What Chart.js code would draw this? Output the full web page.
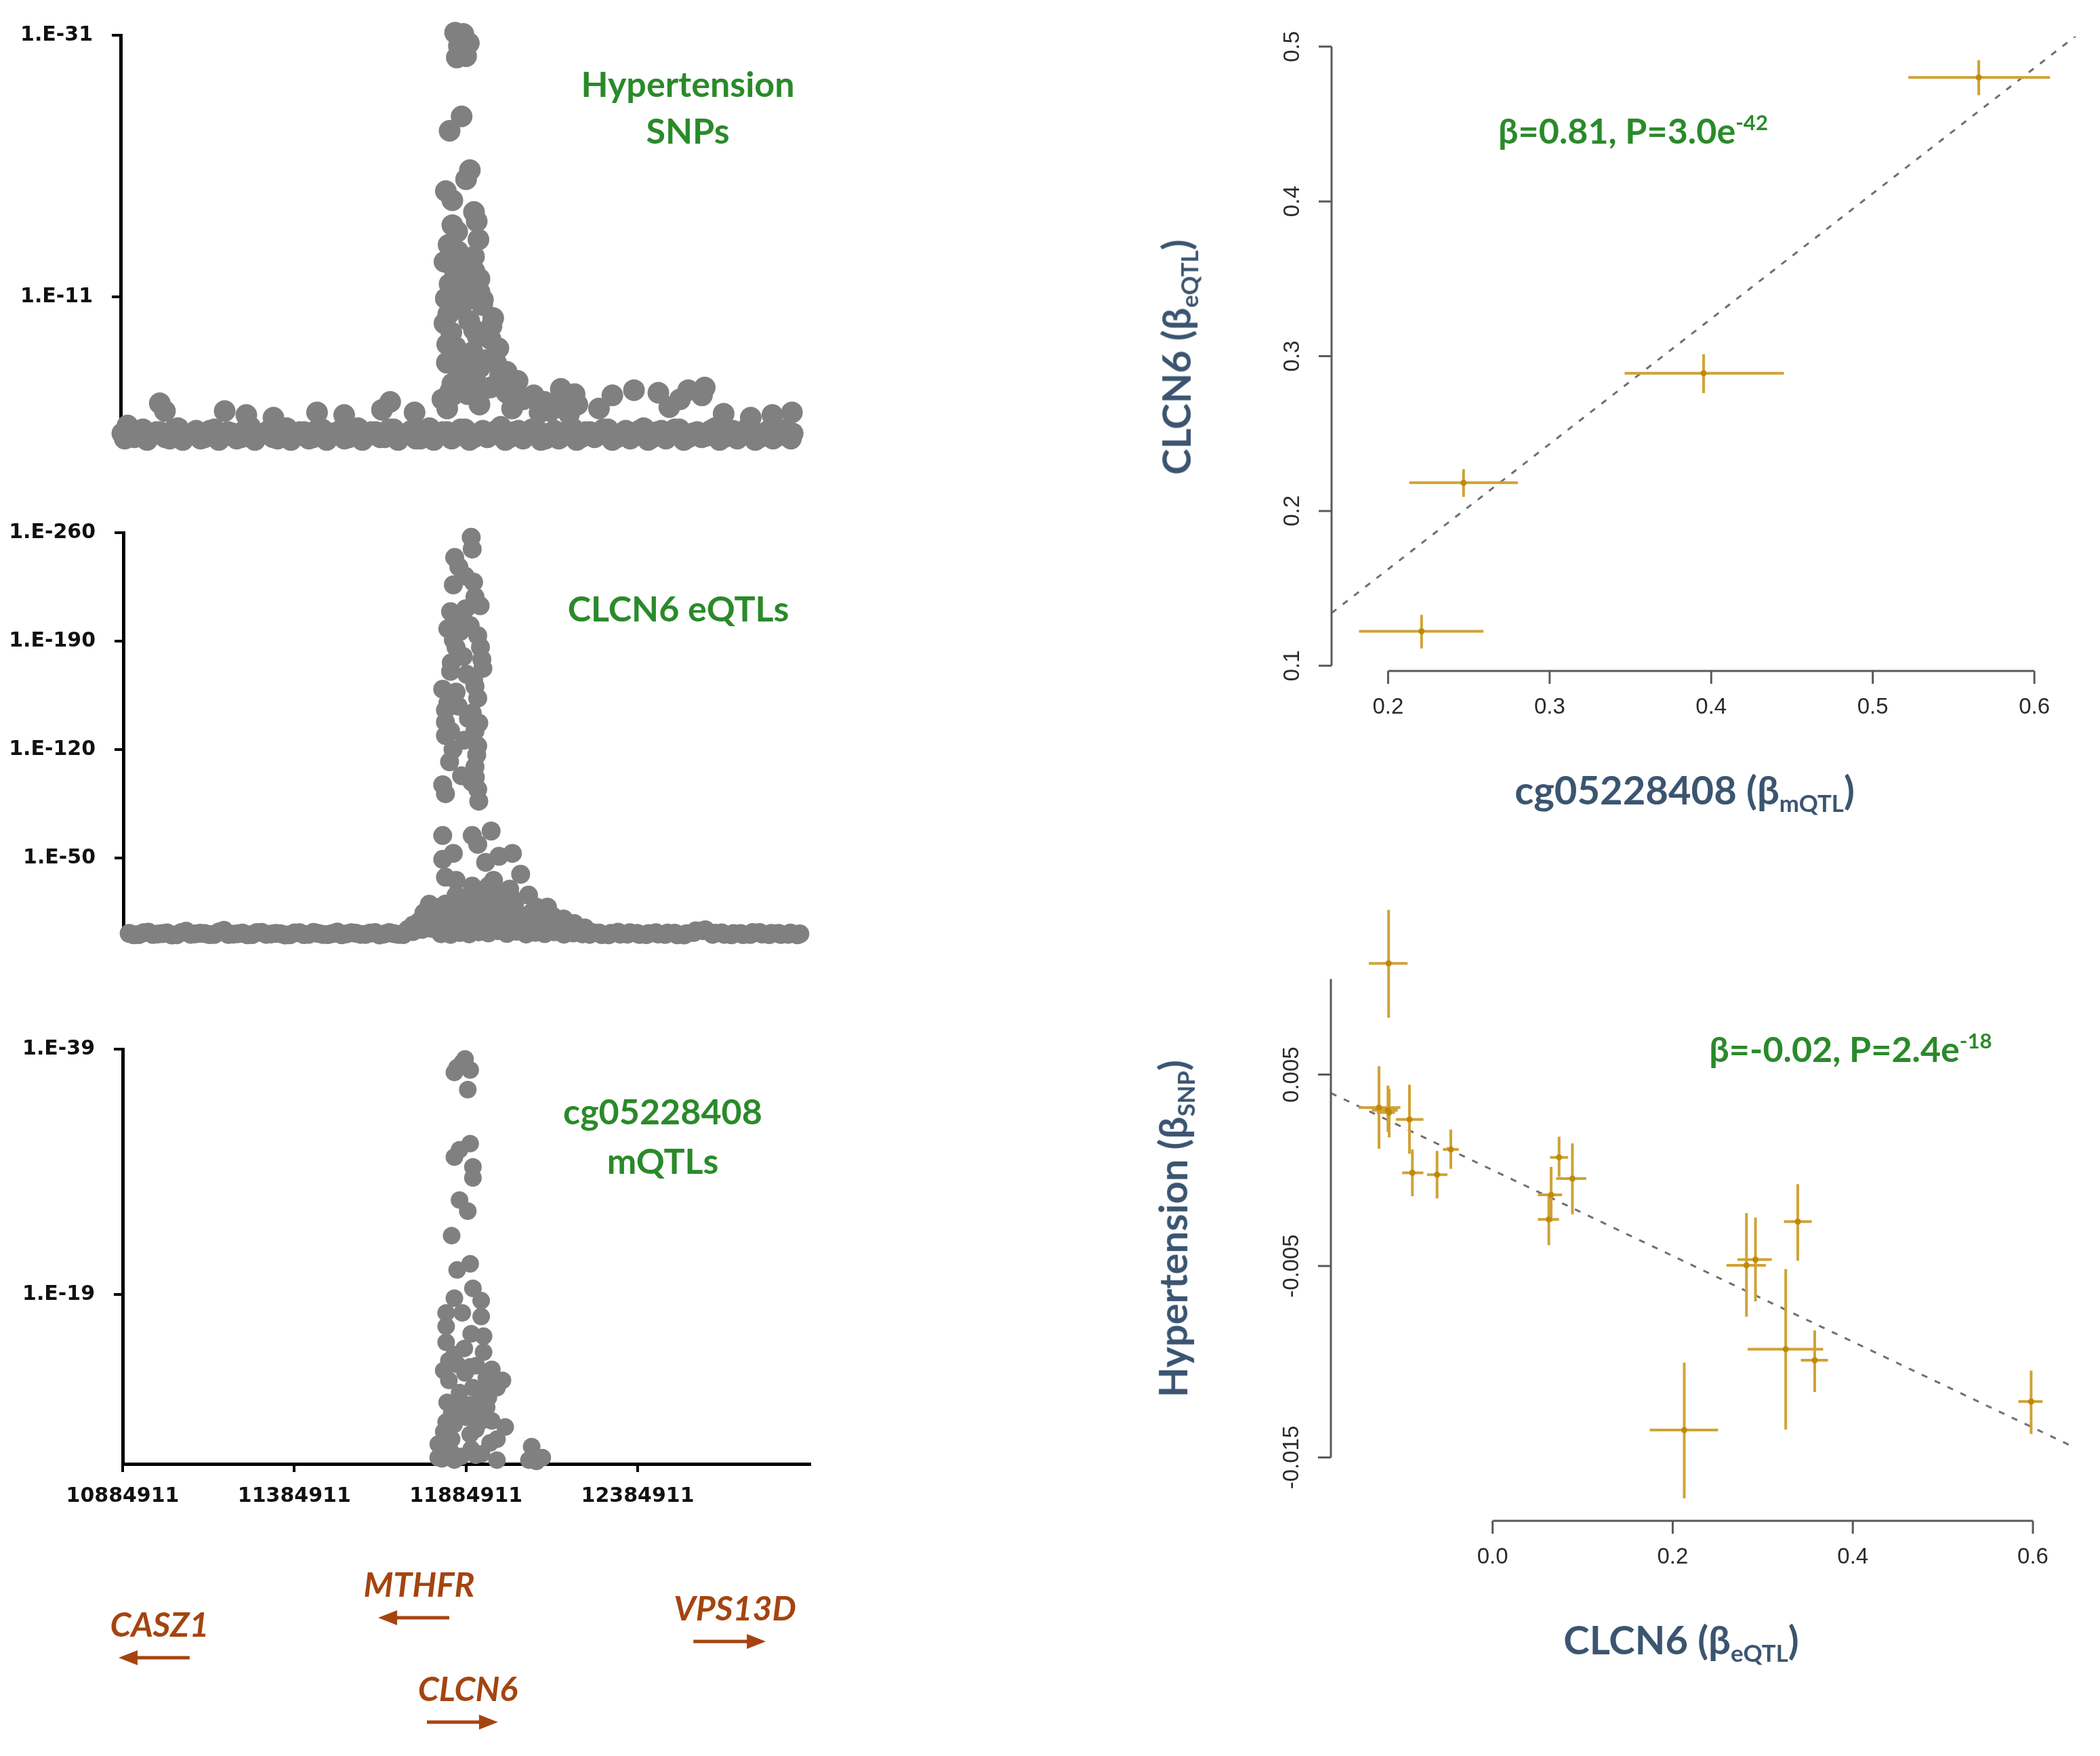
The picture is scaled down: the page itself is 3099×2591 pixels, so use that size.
<!DOCTYPE html>
<html>
<head>
<meta charset="utf-8">
<script src="https://cdn.jsdelivr.net/npm/chart.js@4.4.0/dist/chart.umd.min.js"></script>
<style>
html, body { margin:0; padding:0; background:#fff; }
body { width:3099px; height:2591px; position:relative; overflow:hidden; font-family:Lato, "Open Sans", sans-serif; }
canvas { position:absolute; }
.t { position:absolute; white-space:nowrap; font-weight:bold; line-height:1.2; }
.sub { font-size:0.6em; position:relative; top:0.32em; }
.sup { font-size:0.6em; position:relative; top:-0.62em; }
</style>
</head>
<body>
<canvas id="snpChart" width="1240" height="740" style="left:0;top:0"></canvas>
<canvas id="eqtlChart" width="1240" height="740" style="left:0;top:740px"></canvas>
<canvas id="mqtlChart" width="1240" height="1111" style="left:0;top:1480px"></canvas>
<canvas id="mrTop" width="1399" height="1250" style="left:1700px;top:0"></canvas>
<canvas id="mrBottom" width="1399" height="1341" style="left:1700px;top:1250px"></canvas>
<script>
// ---------- left panels: positions in kb, values are -log10(P) ----------
var xTicksBp = [10884911, 11384911, 11884911, 12384911];
var xMinBp = 10884911, xMaxBp = 12886000;

// Hypertension SNPs
var snpBasePos = [10890,10905,10925,10950,10972,11000,11028,11052,11080,11105,11130,11158,11185,11210,11236,11262,11290,11316,11342,11368,
  11394,11420,11446,11472,11498,11524,11550,11576,11602,11628,11654,11680,11706,11732,11758,11784,11810,11836,11862,11888,
  11914,11940,11966,11992,12018,12044,12070,12096,12122,12148,12174,12200,12226,12252,12278,12304,12330,12356,12382,12408,
  12434,12460,12486,12512,12538,12564,12590,12616,12642,12668,12694,12720,12746,12772,12798,12824,12842];
var snpBaseLogP = [0.6,1.2,0.3,0.9,0.4,0.7,0.2,1.0,0.5,0.8,0.3,0.9,0.4,0.6,0.3,1.1,0.5,0.8,0.2,1.0,
  0.4,0.7,0.3,0.9,0.6,0.8,0.3,1.0,0.4,0.7,0.3,0.9,0.5,0.8,0.2,1.0,0.5,0.7,0.4,0.9,
  0.3,0.8,0.5,1.1,0.3,0.8,0.5,0.9,0.2,0.8,0.4,1.0,0.3,0.7,0.5,0.9,0.3,0.8,0.4,1.0,
  0.3,0.8,0.5,0.9,0.3,0.7,0.4,1.0,0.3,0.8,0.5,0.9,0.3,0.8,0.4,0.9,0.6];
var snpBase2Pos = [10897,10938,10962,10990,11015,11042,11066,11093,11118,11145,11171,11198,11223,11249,11276,11303,11329,11355,11381,11407,
  11433,11459,11485,11511,11537,11563,11589,11615,11641,11667,11693,11719,11745,11771,11797,11823,11849,11875,11901,11927,
  11953,11979,12005,12031,12057,12083,12109,12135,12161,12187,12213,12239,12265,12291,12317,12343,12369,12395,12421,12447,
  12473,12499,12525,12551,12577,12603,12629,12655,12681,12707,12733,12759,12785,12811,12837];
var snpBase2LogP = [0.2,0.8,0.1,0.7,0.3,0.9,0.1,0.6,0.2,0.8,0.1,0.7,0.2,0.9,0.1,0.6,0.3,0.8,0.1,0.7,
  0.2,0.9,0.1,0.6,0.2,0.8,0.1,0.7,0.3,0.9,0.1,0.6,0.2,0.8,0.1,0.7,0.2,0.9,0.1,0.6,
  0.3,0.8,0.1,0.7,0.2,0.9,0.1,0.6,0.2,0.8,0.1,0.7,0.3,0.9,0.1,0.6,0.2,0.8,0.1,0.7,
  0.2,0.9,0.1,0.6,0.3,0.8,0.1,0.7,0.2,0.9,0.1,0.6,0.2,0.8,0.2];
var snpBumpPos = [10999,11014,11188,11251,11330,11457,11536,11670,11646,11741,11836,12167,12207,12317,12278,12380,12451,12483,12514,12538,
  12586,12578,12840,12783,12641,12720,12160,12105];
var snpBumpLogP = [2.9,2.3,2.3,2.0,1.8,2.2,2.0,3.0,2.4,2.2,2.5,4.0,3.6,3.5,2.5,3.9,3.7,2.6,3.2,3.9,
  4.1,3.5,2.2,2.0,2.1,1.8,2.6,2.2];
var snpPeakPos = [11859,11883,11899,11880,11864,11870,11891,11878,11843,11902,11891,11832,11851,11914,11922,11851,11927,11914,11891,11859,
  11843,11930,11832,11883,11938,11970,11839,11848,11914,11962,11985,11836,11851,11907,11978,12009,11867,11930,11851,12041,
  11899,11851,11962,12009,12057,12088,12120,12136,12025,11930,12215,12191,11828,11867,11930,11846,
  11822,11845,11870,11895,11920,11945,11835,11860,11885,11910,11935,11828,11852,11876,11900,11925,11950,11840,11865,11890,
  11915,11940,11965,11990];
var snpPeakLogP = [31.2,31.1,30.4,29.8,29.3,30.2,29.4,24.8,23.7,20.7,20.0,19.1,18.4,17.5,16.8,16.5,15.4,14.1,13.4,12.9,
  12.0,11.4,10.9,10.6,10.4,9.4,9.7,8.3,8.5,7.8,7.1,7.4,6.5,6.6,6.0,5.3,5.5,5.6,4.4,4.6,
  4.8,3.5,4.1,3.7,3.2,3.5,3.0,2.3,2.5,2.8,2.8,2.1,13.7,14.5,12.4,10.4,
  3.2,3.8,4.2,3.6,4.5,4.0,6.0,7.2,5.2,6.8,5.8,9.0,10.0,11.8,9.2,8.0,6.2,15.0,16.0,12.2,
  13.0,10.8,8.8,5.0];
var snpTicks = [11, 31];

// CLCN6 eQTLs
var eqtlBasePos = [10902,10930,10958,10985,11012,11040,11068,11095,11122,11150,11178,11205,11232,11260,11288,11315,11342,11370,11398,11425,
  11452,11480,11508,11535,11562,11590,11618,11645,11672,11700,11728,11755,11782,11810,11838,11865,11892,11920,11948,11975,
  12002,12030,12058,12085,12112,12140,12168,12195,12222,12250,12278,12305,12332,12360,12388,12415,12442,12470,12498,12525,
  12552,12580,12608,12635,12662,12690,12718,12745,12772,12800,12828,12855];
var eqtlBaseLogP = [1.2,0.4,2.0,0.8,1.5,0.3,2.6,0.9,1.1,0.5,3.2,0.7,1.4,0.4,1.9,0.8,1.0,0.3,1.6,0.6,
  1.2,0.4,2.1,0.9,1.3,0.5,1.7,0.8,1.1,0.4,2.4,3.8,4.5,1.0,0.6,1.8,0.9,2.2,1.5,3.0,
  1.2,2.6,0.8,1.9,1.1,2.3,0.7,1.5,0.9,1.8,0.4,1.2,0.7,1.6,0.5,1.1,0.8,1.4,0.3,1.0,
  2.8,3.5,1.3,0.6,1.1,0.4,1.7,0.8,1.2,0.5,1.4,0.9];
var eqtlBase2Pos = [10915,10944,10971,10999,11026,11054,11081,11109,11136,11164,11191,11219,11246,11274,11301,11329,11356,11384,11411,11439,
  11466,11494,11521,11549,11576,11604,11631,11659,11686,11714,12216,12243,12271,12298,12326,12353,12381,12408,12436,12463,
  12491,12518,12546,12573,12601,12628,12656,12683,12711,12738,12766,12793,12821,12848];
var eqtlBase2LogP = [0.3,1.6,0.5,1.1,0.2,1.8,0.6,1.3,0.4,2.2,0.5,1.0,0.3,1.7,0.6,1.2,0.2,1.5,0.4,1.9,
  0.5,1.1,0.3,1.6,0.6,1.4,0.2,1.8,0.5,2.5,1.9,0.6,1.4,0.3,2.0,0.7,1.2,0.4,1.6,0.5,
  1.3,0.2,1.8,3.0,0.6,1.5,0.3,1.1,0.5,1.7,0.4,1.2,0.6,0.3];
var eqtlPeakPos = [11898,11901,11862,11846,11909,11924,11838,11882,11870,11917,11846,11854,11929,11838,11885,11932,11815,11854,11909,11917,
  11823,11823,11901,11909,11838,11823,11917,11914,11909,11815,11823,11917,11920,11815,11901,11956,11917,11846,12018,11815,
  11823,11854,11940,11979,12042,12065,11854,12120,11901,11963,12010,12026,11792,11776,11745,12167,12198,11729,11932,11995,
  12073,11901,11823,11956,12026,12088,11870,12151,12229,11713,11776,11838,11885,11932,11979,12026,12088,12135,11807,11901,
  11995,11948,12088,11760,
  11850,11880,11905,11830,11865,11895,11925,11840,11875,11905,11830,11860,11890,11920,11845,11878,11910,11835,11870,11900,
  11750,11790,11830,11870,11910,11950,11990,12030,12070,12110,12150,12190,11770,11810,11850,11890,11930,11970,12010,12050,
  12100,11860,11920,11980];
var eqtlPeakLogP = [257,249.4,237.9,226.3,218.6,212.8,209,210.9,203.2,193.5,190.7,185.9,178.2,170.4,168.5,172.4,158.9,157,160.8,153.1,
  145.4,137.7,143.5,131.9,131.9,129,122.3,116.5,108.8,97.2,91.4,94.3,86.6,64.4,64.4,67.3,58.7,52.9,52.9,49,
  37.5,35.5,47.1,51,39.4,25.9,25.9,18.2,31.7,35.5,29.8,22.1,18.2,12.4,8.6,10.5,7.6,6.6,22.1,18.2,
  14.4,16.3,20.1,25.9,10.5,8.6,10.5,6.6,4.7,3.7,20,14.4,22,14.4,8.6,16.3,18.2,12.4,8.6,6.6,
  25.9,31.7,6.6,14.4,
  244,232,228,198,196,200,186,176,180,165,150,148,140,137,120,126,102,112,103,99,
  4,5,6,5,7,6,5,6,4,5,4,3,10,12,14,11,13,15,12,10,
  9,24,28,20];
var eqtlTicks = [50, 120, 190, 260];

// cg05228408 mQTLs
var mqtlPos = [11882,11859,11897,11851,11874,11890,11897,11866,11851,11905,11905,11866,11890,11843,11897,11859,11905,11851,11929,11827,
  11874,11929,11827,11936,11827,11936,11859,11897,11960,11835,11991,11905,11929,11843,11929,11827,11960,11999,11804,11843,
  11897,11975,12076,11804,11851,11913,11975,12068,12107,11851,11882,11944,11866,11975,11913,11866,11929,
  11815,11840,11870,11900,11930,11955,11820,11850,11885,11915,11945,11830,11860,11895,11925,11950,11835,11880,11915,11960,
  11820,11900,12090];
var mqtlLogP = [38.2,37.5,37.3,37.1,37.9,35.7,31.3,30.8,30.2,29.4,28.5,26.7,25.8,23.8,21.5,21.0,19.5,18.7,18.5,17.5,
  17.5,17.2,16.4,15.6,15.1,14.3,13.3,13.1,12.9,12.0,12.0,11.4,10.6,9.3,9.5,8.6,8.7,8.2,6.8,7.2,
  7.6,7.2,6.6,5.7,5.5,5.9,5.5,5.5,5.7,14.1,12.6,12.2,11.0,11.4,8.0,10.3,8.7,
  5.6,6.2,5.8,6.4,6.0,6.9,7.8,8.4,9.0,8.2,9.8,10.2,9.8,10.0,11.0,10.6,13.6,14.6,13.2,11.8,
  12.8,15.8,5.4];
var mqtlTicks = [19, 39];

// genes (kb), strand -1 = leftwards
var geneNames = ['CASZ1', 'MTHFR', 'VPS13D', 'CLCN6'];
var geneStartKb = [10873, 11629, 12547, 11771];
var geneEndKb = [11080, 11836, 12758, 11978];
var geneStrand = [-1, -1, 1, 1];

// ---------- right top: CLCN6 eQTL beta vs cg05228408 mQTL beta ----------
var topBetaM = [0.2207, 0.2467, 0.3953, 0.5656];
var topBetaMLo = [0.182, 0.2131, 0.3464, 0.522];
var topBetaMHi = [0.259, 0.2803, 0.445, 0.6097];
var topBetaE = [0.1222, 0.2182, 0.289, 0.4801];
var topBetaELo = [0.1112, 0.209, 0.2761, 0.4686];
var topBetaEHi = [0.1328, 0.227, 0.3012, 0.4913];
var topFitX = [0.165, 0.627];
var topFitY = [0.134, 0.508];
var topXTicks = [0.2, 0.3, 0.4, 0.5, 0.6];
var topYTicks = [0.1, 0.2, 0.3, 0.4, 0.5];

// ---------- right bottom: hypertension SNP beta vs CLCN6 eQTL beta ----------
var botBetaE = [-0.1155,-0.1262,-0.1162,-0.1149,-0.0923,-0.0891,-0.0617,-0.0464,0.0650,0.0624,0.0738,0.0886,0.2819,0.2919,0.3389,0.3255,0.3577,0.2128,0.5980];
var botBetaELo = [-0.1375,-0.1488,-0.1342,-0.1285,-0.1074,-0.1004,-0.0728,-0.0552,0.0503,0.0503,0.0638,0.0705,0.2597,0.2718,0.3235,0.2832,0.3423,0.1745,0.5839];
var botBetaEHi = [-0.0944,-0.1024,-0.1053,-0.1084,-0.0768,-0.0768,-0.0502,-0.0376,0.0772,0.0738,0.0839,0.1040,0.3034,0.3100,0.3544,0.3671,0.3725,0.2503,0.6107];
var botBetaS = [0.01081,0.00328,0.00314,0.00302,0.00266,-0.00013,-0.00023,0.00109,-0.00128,-0.00256,0.00068,-0.00043,-0.00496,-0.00466,-0.00268,-0.00934,-0.00992,-0.01357,-0.01208];
var botBetaSLo = [0.00797,0.00113,0.00200,0.00172,0.00086,-0.00135,-0.00147,0.00007,-0.00268,-0.00391,-0.00034,-0.00230,-0.00764,-0.00685,-0.00472,-0.01354,-0.01158,-0.01713,-0.01377];
var botBetaSHi = [0.01361,0.00544,0.00443,0.00426,0.00447,0.00109,0.00101,0.00213,0.00018,-0.00122,0.00176,0.00141,-0.00224,-0.00247,-0.00072,-0.00516,-0.00837,-0.01004,-0.01047];
var botFitX = [-0.1796, 0.641];
var botFitY = [0.00404, -0.01436];
var botXTicks = [0, 0.2, 0.4, 0.6];
var botYTicks = [0.005, -0.005, -0.015];

// ---------- helpers ----------
var GREY = '#808080', GOLD = '#d0a236', GOLD_DOT = '#bf8a00', GENE = '#a5440f';
var GREEN = '#2a8a2a', SLATE = '#3b5571';

function pts(posKb, vals) {
  return posKb.map(function (p, i) { return {x: p * 1000, y: vals[i]}; });
}
function xy(xs, ys) {
  return xs.map(function (v, i) { return {x: v, y: ys[i]}; });
}
function hBars(lo, hi, y) {
  var d = [];
  for (var i = 0; i < y.length; i++) d.push({x: lo[i], y: y[i]}, {x: hi[i], y: y[i]}, {x: null, y: null});
  return d;
}
function vBars(x, lo, hi) {
  var d = [];
  for (var i = 0; i < x.length; i++) d.push({x: x[i], y: lo[i]}, {x: x[i], y: hi[i]}, {x: null, y: null});
  return d;
}

var tickFont = {family: 'DejaVu Sans', weight: 'bold', size: 30};
function excelY(min, max, ticks) {
  return {
    type: 'linear', min: min, max: max,
    afterBuildTicks: function (s) { s.ticks = ticks.map(function (v) { return {value: v}; }); },
    afterFit: function (s) { s.width = 175; },
    grid: {display: true, drawOnChartArea: false, drawTicks: true, tickLength: 13, color: '#000', lineWidth: 4},
    border: {display: true, color: '#000', width: 5},
    ticks: {padding: 28, color: '#111', font: tickFont, callback: function (v) { return '1.E-' + v; }}
  };
}
function hiddenX() {
  return {type: 'linear', min: xMinBp, max: xMaxBp, display: false};
}

// gene arrows and names under the mQTL panel
var geneTrack = {
  id: 'geneTrack',
  afterDraw: function (chart, args, o) {
    var ctx = chart.ctx, x = chart.scales.x;
    ctx.save();
    ctx.strokeStyle = GENE; ctx.fillStyle = GENE; ctx.lineWidth = 5;
    ctx.font = 'italic bold 50px Lato, "Open Sans", sans-serif';
    ctx.textAlign = 'center'; ctx.textBaseline = 'alphabetic';
    for (var i = 0; i < geneNames.length; i++) {
      var x1 = x.getPixelForValue(geneStartKb[i] * 1000), x2 = x.getPixelForValue(geneEndKb[i] * 1000);
      var y = o.rows[i], d = geneStrand[i];
      var tip = d > 0 ? x2 : x1, tail = d > 0 ? x1 : x2;
      ctx.beginPath(); ctx.moveTo(tail, y); ctx.lineTo(tip - d * 18, y); ctx.stroke();
      ctx.beginPath(); ctx.moveTo(tip, y); ctx.lineTo(tip - d * 28, y - 11); ctx.lineTo(tip - d * 28, y + 11); ctx.closePath(); ctx.fill();
      ctx.fillText(geneNames[i], (x1 + x2) / 2 + 8, y - 31);
    }
    ctx.restore();
  }
};

// R style axes: line only from first to last tick, ticks outward, y labels turned
var rAxes = {
  id: 'rAxes',
  afterDraw: function (chart, args, o) {
    var ctx = chart.ctx, a = chart.chartArea, xs = chart.scales.x, ys = chart.scales.y;
    ctx.save();
    ctx.strokeStyle = '#5a5a5a'; ctx.lineWidth = 3; ctx.fillStyle = '#2b2b2b';
    ctx.font = '33px "Liberation Sans", Arial, sans-serif';
    ctx.textAlign = 'center'; ctx.textBaseline = 'middle';
    var px = o.xTicks.map(function (v) { return xs.getPixelForValue(v); });
    ctx.beginPath();
    ctx.moveTo(px[0], a.bottom); ctx.lineTo(px[px.length - 1], a.bottom);
    px.forEach(function (p) { ctx.moveTo(p, a.bottom); ctx.lineTo(p, a.bottom + 19); });
    ctx.stroke();
    o.xTicks.forEach(function (v, i) { ctx.fillText(v.toFixed(o.xDec), px[i], a.bottom + 54); });
    var py = o.yTicks.map(function (v) { return ys.getPixelForValue(v); });
    var ends = (o.yLine || [o.yTicks[0], o.yTicks[o.yTicks.length - 1]]).map(function (v) { return ys.getPixelForValue(v); });
    ctx.beginPath();
    ctx.moveTo(a.left, ends[0]); ctx.lineTo(a.left, ends[1]);
    py.forEach(function (p) { ctx.moveTo(a.left, p); ctx.lineTo(a.left - 19, p); });
    ctx.stroke();
    o.yTicks.forEach(function (v, i) {
      ctx.save();
      ctx.translate(a.left - 57, py[i]);
      ctx.rotate(-Math.PI / 2);
      ctx.fillText(v.toFixed(o.yDec), 0, 0);
      ctx.restore();
    });
    ctx.restore();
  }
};

function opts(extra) {
  var o = {responsive: false, animation: false, devicePixelRatio: 1};
  for (var k in extra) o[k] = extra[k];
  o.plugins = Object.assign({legend: {display: false}, tooltip: {enabled: false}}, extra.plugins || {});
  return o;
}
function greyDots(data, r) {
  return {data: data, pointRadius: r, pointHoverRadius: r, backgroundColor: GREY, borderWidth: 0, clip: false};
}

// ---------- left charts ----------
new Chart(document.getElementById('snpChart'), {
  type: 'scatter',
  data: {datasets: [greyDots(pts(snpBasePos, snpBaseLogP).concat(pts(snpBase2Pos, snpBase2LogP), pts(snpBumpPos, snpBumpLogP), pts(snpPeakPos, snpPeakLogP)), 16)]},
  options: opts({
    layout: {autoPadding: false, padding: {left: 3, top: 52, right: 48, bottom: 89}},
    scales: {x: hiddenX(), y: excelY(0, 31, snpTicks)}
  })
});

new Chart(document.getElementById('eqtlChart'), {
  type: 'scatter',
  data: {datasets: [greyDots(pts(eqtlBasePos, eqtlBaseLogP).concat(pts(eqtlBase2Pos, eqtlBase2LogP), pts(eqtlPeakPos, eqtlPeakLogP)), 14)]},
  options: opts({
    layout: {autoPadding: false, padding: {left: 7, top: 36, right: 44, bottom: 100}},
    scales: {x: hiddenX(), y: excelY(0, 260, eqtlTicks)}
  })
});

new Chart(document.getElementById('mqtlChart'), {
  type: 'scatter',
  data: {datasets: [greyDots(pts(mqtlPos, mqtlLogP), 13)]},
  options: opts({
    layout: {autoPadding: false, padding: {left: 6, top: 68, right: 45, bottom: 351}},
    scales: {
      x: {
        type: 'linear', min: xMinBp, max: xMaxBp,
        afterBuildTicks: function (s) { s.ticks = xTicksBp.map(function (v) { return {value: v}; }); },
        afterFit: function (s) { s.height = 80; },
        grid: {display: true, drawOnChartArea: false, drawTicks: true, tickLength: 12, color: '#000', lineWidth: 4},
        border: {display: true, color: '#000', width: 5},
        ticks: {padding: 18, color: '#111', font: tickFont, maxRotation: 0, autoSkip: false,
                callback: function (v) { return String(Math.round(v)); }}
      },
      y: excelY(5.19, 39, mqtlTicks)
    },
    plugins: {geneTrack: {rows: [966, 907, 942, 1061]}}
  }),
  plugins: [geneTrack]
});

// ---------- right charts ----------
function mrSets(xs, xlo, xhi, ys, ylo, yhi, fx, fy) {
  var bar = {showLine: true, pointRadius: 0, borderColor: GOLD, borderWidth: 4, spanGaps: false};
  return [
    {data: xy(xs, ys), pointRadius: 4.5, backgroundColor: GOLD_DOT, borderWidth: 0, order: 1},
    Object.assign({data: hBars(xlo, xhi, ys), order: 2}, bar),
    Object.assign({data: vBars(xs, ylo, yhi), order: 3}, bar),
    {data: xy(fx, fy), showLine: true, pointRadius: 0, borderColor: '#707070', borderWidth: 3, borderDash: [9, 12], order: 4}
  ];
}

new Chart(document.getElementById('mrTop'), {
  type: 'scatter',
  data: {datasets: mrSets(topBetaM, topBetaMLo, topBetaMHi, topBetaE, topBetaELo, topBetaEHi, topFitX, topFitY)},
  options: opts({
    layout: {autoPadding: false, padding: {left: 265, top: 54, right: 33, bottom: 260}},
    scales: {
      x: {type: 'linear', min: 0.165, max: 0.6268, display: false},
      y: {type: 'linear', min: 0.0966, max: 0.5065, display: false}
    },
    plugins: {rAxes: {xTicks: topXTicks, yTicks: topYTicks, xDec: 1, yDec: 1}}
  }),
  plugins: [rAxes]
});

new Chart(document.getElementById('mrBottom'), {
  type: 'scatter',
  data: {datasets: mrSets(botBetaE, botBetaELo, botBetaEHi, botBetaS, botBetaSLo, botBetaSHi, botFitX, botFitY)},
  options: opts({
    layout: {autoPadding: false, padding: {left: 264, top: 56, right: 44.5, bottom: 347}},
    scales: {
      x: {type: 'linear', min: -0.1796, max: 0.641, display: false},
      y: {type: 'linear', min: -0.01831, max: 0.0149, display: false}
    },
    plugins: {rAxes: {xTicks: botXTicks, yTicks: botYTicks, yLine: [0.01, -0.015], xDec: 1, yDec: 3}}
  }),
  plugins: [rAxes]
});

// ---------- free text ----------
function addText(html, x, base, size, color, rotated) {
  var d = document.createElement('div');
  d.className = 't';
  d.innerHTML = html;
  d.style.fontSize = size + 'px';
  d.style.color = color;
  if (rotated) {
    d.style.left = (x - 0.387 * size) + 'px';
    d.style.top = base + 'px';
    d.style.transform = 'translate(-50%,-50%) rotate(-90deg)';
  } else {
    d.style.left = x + 'px';
    d.style.top = (base - 0.987 * size) + 'px';
    d.style.transform = 'translateX(-50%)';
  }
  document.body.appendChild(d);
}
addText('Hypertension', 1015, 143, 52, GREEN);
addText('SNPs', 1015, 212, 52, GREEN);
addText('CLCN6 eQTLs', 1001, 917, 52, GREEN);
addText('cg05228408', 978, 1659, 52, GREEN);
addText('mQTLs', 978, 1732, 52, GREEN);

addText('β=0.81, P=3.0e<span class="sup">-42</span>', 2410, 212, 52, GREEN);
addText('β=-0.02, P=2.4e<span class="sup">-18</span>', 2731, 1567, 52, GREEN);

addText('cg05228408 (β<span class="sub">mQTL</span>)', 2486, 1187, 58, SLATE);
addText('CLCN6 (β<span class="sub">eQTL</span>)', 1757, 527, 58, SLATE, true);
addText('CLCN6 (β<span class="sub">eQTL</span>)', 2481, 2441, 58, SLATE);
addText('Hypertension (β<span class="sub">SNP</span>)', 1752, 1813, 58, SLATE, true);
</script>
</body>
</html>
